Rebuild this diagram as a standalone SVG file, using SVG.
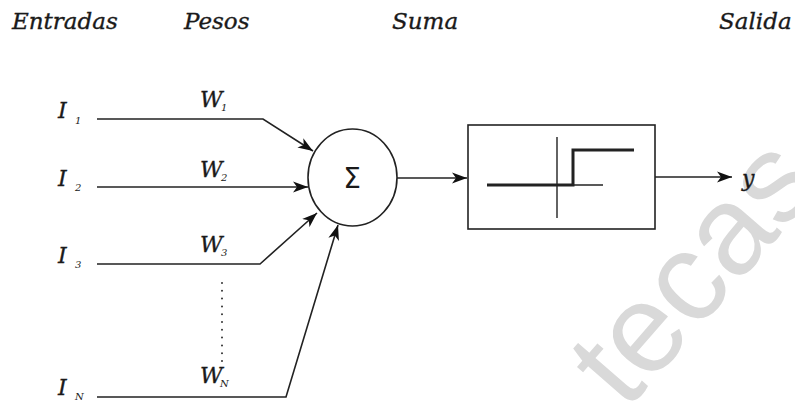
<svg xmlns="http://www.w3.org/2000/svg" width="795" height="404" viewBox="0 0 795 404">
  <style>
    .hdr { font-family: "DejaVu Serif", "Liberation Serif", serif; font-style: italic; font-size: 23px; fill: #1a1a1a; stroke: #1a1a1a; stroke-width: 0.35; }
    .var { font-family: "DejaVu Serif", "Liberation Serif", serif; font-style: italic; font-size: 22px; fill: #1a1a1a; stroke: #1a1a1a; stroke-width: 0.35; }
    .sub { font-family: "DejaVu Serif", "Liberation Serif", serif; font-style: italic; font-size: 10px; fill: #1a1a1a; }
    .wire { fill: none; stroke: #222; stroke-width: 1.6; }
    .arrow { marker-end: url(#head); }
    .shape { fill: #fff; stroke: #222; stroke-width: 1.6; }
    .mark { font-family: "Liberation Sans", Arial, sans-serif; font-size: 126px; fill: #d9d9d9; }
  </style>
  <defs>
    <marker id="head" markerUnits="userSpaceOnUse" markerWidth="16" markerHeight="12" refX="15" refY="6" orient="auto">
      <path d="M0,0.5 L15,6 L0,11.5 L4,6 Z" fill="#111"/>
    </marker>
  </defs>
  <rect width="795" height="404" fill="#fff"/>

  <!-- background watermark -->
  <text class="mark" transform="translate(626,412) rotate(-49)">tecas</text>

  <!-- column headers -->
  <g id="headers">
    <text class="hdr" x="12" y="29">Entradas</text>
    <text class="hdr" x="184" y="29">Pesos</text>
    <text class="hdr" x="392" y="29">Suma</text>
    <text class="hdr" x="719" y="29">Salida</text>
  </g>

  <!-- connectors -->
  <g id="connectors">
    <polyline class="wire arrow" points="97,119 263,119 313,151"/>
    <polyline class="wire arrow" points="97,187 308,187"/>
    <polyline class="wire arrow" points="97,264 260,264 317,213"/>
    <polyline class="wire arrow" points="97,397 286,397 338,225"/>
    <line class="wire arrow" x1="397" y1="178" x2="467" y2="178"/>
    <line class="wire arrow" x1="655" y1="177" x2="732" y2="177"/>
    <line x1="222" y1="283" x2="222" y2="362" stroke="#333" stroke-width="2" stroke-linecap="round" stroke-dasharray="0 7.8"/>
  </g>

  <!-- inputs -->
  <g id="input-1">
    <text class="var" x="58" y="118">I</text><text class="sub" x="75" y="124">1</text>
  </g>
  <g id="input-2">
    <text class="var" x="58" y="186">I</text><text class="sub" x="75" y="191">2</text>
  </g>
  <g id="input-3">
    <text class="var" x="58" y="263">I</text><text class="sub" x="75" y="268">3</text>
  </g>
  <g id="input-n">
    <text class="var" x="58" y="395">I</text><text class="sub" x="75" y="400">N</text>
  </g>

  <!-- weights -->
  <g id="weight-1">
    <text class="var" x="200" y="107">W</text><text class="sub" x="221" y="111">1</text>
  </g>
  <g id="weight-2">
    <text class="var" x="200" y="177">W</text><text class="sub" x="221" y="181">2</text>
  </g>
  <g id="weight-3">
    <text class="var" x="200" y="252">W</text><text class="sub" x="221" y="256">3</text>
  </g>
  <g id="weight-n">
    <text class="var" x="200" y="383">W</text><text class="sub" x="220" y="387">N</text>
  </g>

  <!-- summation node -->
  <g id="sum">
    <ellipse class="shape" cx="352.5" cy="177.5" rx="44.5" ry="48.5"/>
    <text x="352" y="188" text-anchor="middle" font-family="DejaVu Sans, sans-serif" font-size="28" fill="#1a1a1a">Σ</text>
  </g>

  <!-- step activation block -->
  <g id="activation">
    <rect class="shape" x="468" y="125" width="187" height="104"/>
    <line x1="557" y1="137" x2="557" y2="218" stroke="#222" stroke-width="1.4"/>
    <line x1="487" y1="185" x2="603" y2="185" stroke="#222" stroke-width="1.4"/>
    <polyline points="487,185 573,185 573,150 634,150" fill="none" stroke="#222" stroke-width="3"/>
  </g>

  <!-- output -->
  <g id="output">
    <text class="var" x="742" y="186">y</text>
  </g>
</svg>
